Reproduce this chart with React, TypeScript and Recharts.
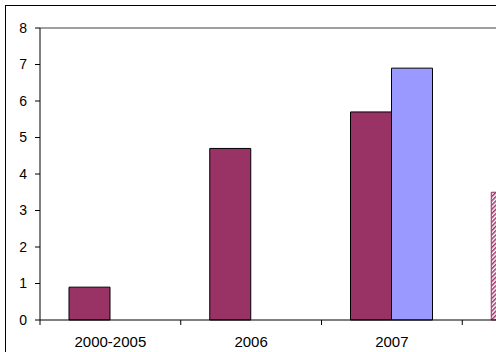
import { BarChart, Bar, XAxis, YAxis, Cell, ReferenceLine } from 'recharts';

// categories (the 4th one is cut off at the right edge in the original)
const categories = ['2000-2005', '2006', '2007', '2008'];
const seriesA = [0.9, 4.7, 5.7, 3.5];
const seriesB = [null, null, 6.9, null];
const yTicks = [0, 1, 2, 3, 4, 5, 6, 7, 8];
const hatchedCats = ['2008'];

const data = categories.map((cat, i) => ({ cat, a: seriesA[i], b: seriesB[i] }));

const CHART_W = 603;
const CHART_H = 352;
const VIEW_W = 496;
const Y_W = 40;
const BAND = (CHART_W - Y_W) / categories.length;
const FONT = 'Arial, "Liberation Sans", sans-serif';

function CatTick(props: any) {
  const { x, y, payload } = props;
  const left = x - BAND / 2;
  // label of the cut-off category falls outside the visible area
  const visible = x + 40 < VIEW_W;
  return (
    <g>
      <line x1={left} y1={y} x2={left} y2={y + 5} stroke="#000" />
      {visible && (
        <text x={x} y={y + 27} textAnchor="middle" fontSize={15} fontFamily={FONT} fill="#000">
          {payload.value}
        </text>
      )}
    </g>
  );
}

export default function App() {
  return (
    <div style={{ position: 'absolute', left: 0, top: 0, width: VIEW_W, height: 352, overflow: 'hidden', background: '#fff' }}>
      <div
        style={{
          position: 'absolute', left: 5, top: 5, width: 700, height: 400,
          borderTop: '1px solid #000', borderLeft: '1px solid #000',
        }}
      />
      <div style={{ position: 'absolute', left: 0, top: 0 }}>
        <BarChart
          width={CHART_W}
          height={CHART_H}
          data={data}
          margin={{ top: 28, right: 0, bottom: 0, left: 0 }}
          barSize={41}
          barGap={0}
        >
          <defs>
            <pattern id="hatch" width="3" height="3" patternUnits="userSpaceOnUse" patternTransform="rotate(45)">
              <rect width="3" height="3" fill="#fff" />
              <rect width="1.5" height="3" fill="#993366" />
            </pattern>
          </defs>
          <ReferenceLine y={8} stroke="#808080" strokeWidth={1.5} />
          <XAxis
            dataKey="cat"
            height={32}
            tickSize={0}
            tickMargin={0}
            tick={<CatTick />}
            axisLine={{ stroke: '#000' }}
            interval={0}
          />
          <YAxis
            width={Y_W}
            domain={[0, 8]}
            ticks={yTicks}
            tickSize={5}
            tickMargin={8}
            axisLine={{ stroke: '#000' }}
            tickLine={{ stroke: '#000' }}
            tick={{ fontSize: 14, fontFamily: FONT, fill: '#000' }}
            interval={0}
          />
          <Bar dataKey="a" fill="#993366" stroke="#000" isAnimationActive={false}>
            {data.map((d) => (
              <Cell
                key={d.cat}
                fill={hatchedCats.includes(d.cat) ? 'url(#hatch)' : '#993366'}
                stroke={hatchedCats.includes(d.cat) ? '#993366' : '#000'}
              />
            ))}
          </Bar>
          <Bar dataKey="b" fill="#9999ff" stroke="#000" isAnimationActive={false} />
        </BarChart>
      </div>
    </div>
  );
}
